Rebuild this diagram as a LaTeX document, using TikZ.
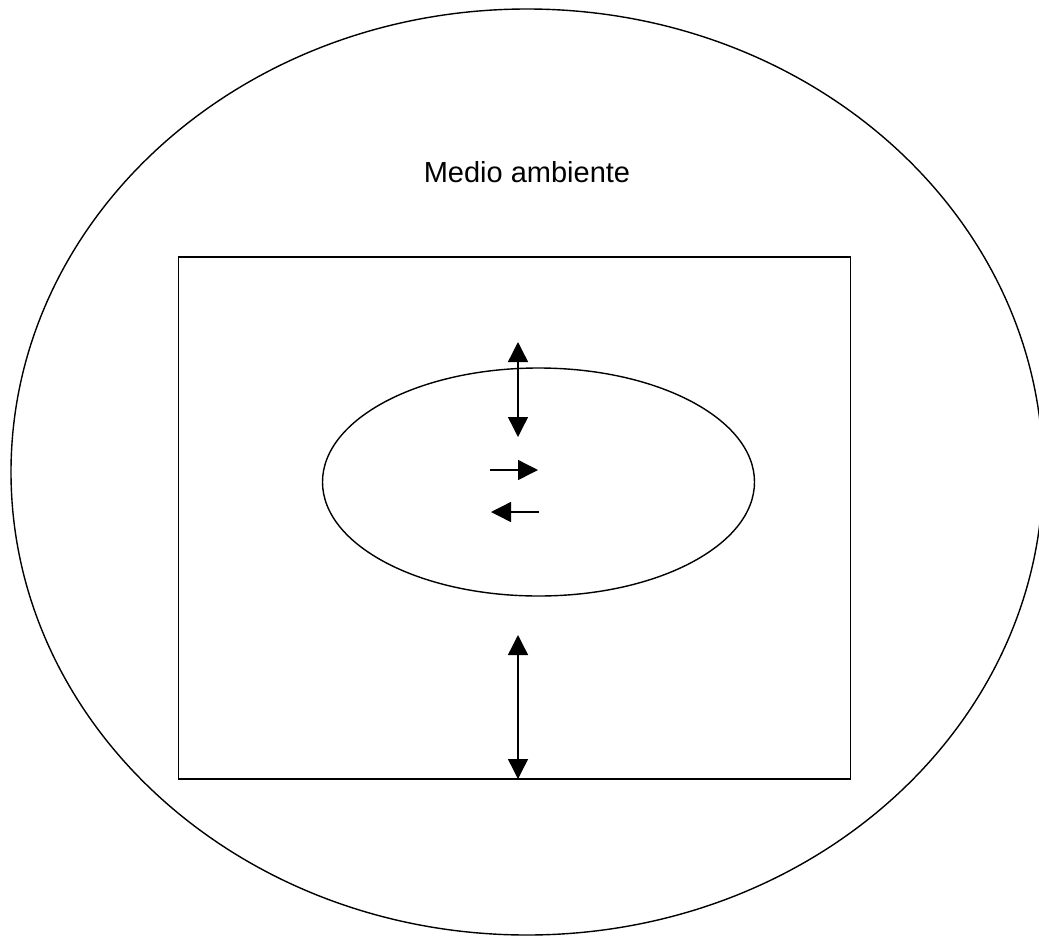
\documentclass[tikz,border=0pt]{standalone}
\usepackage{fontspec}
\setmainfont{Liberation Sans}
\usetikzlibrary{arrows.meta,shapes.geometric}
\begin{document}
\begin{tikzpicture}[x=1pt,y=-1pt,
  outline/.style={draw=black,line width=1.4pt},
  flow/.style={line width=1.4pt,-{Triangle[length=20pt,width=20pt]}},
  flowboth/.style={line width=1.4pt,{Triangle[length=20pt,width=20pt]}-{Triangle[length=20pt,width=20pt]}}]
  \useasboundingbox (0,0) rectangle (1039,935);
  % environment
  \node[outline,ellipse,minimum width=1032pt,minimum height=926pt,inner sep=0pt] (env) at (527,472) {};
  \node[font=\fontsize{29pt}{34pt}\selectfont] (label) at (527,172) {Medio ambiente};
  % system boundary
  \node[outline,rectangle,minimum width=672pt,minimum height=522pt,inner sep=0pt] (sys) at (514.5,518) {};
  % core
  \node[outline,ellipse,minimum width=432pt,minimum height=228pt,inner sep=0pt] (core) at (538.5,482) {};
  % exchanges
  \coordinate (a1) at (518,342);
  \coordinate (a2) at (518,437);
  \coordinate (b1) at (490,470);
  \coordinate (b2) at (538,470);
  \coordinate (c1) at (539,512);
  \coordinate (c2) at (491,512);
  \coordinate (d1) at (518,635);
  \coordinate (d2) at (518,779);
  \draw[flowboth] (a1) -- (a2);
  \draw[flow] (b1) -- (b2);
  \draw[flow] (c1) -- (c2);
  \draw[flowboth] (d1) -- (d2);
\end{tikzpicture}
\end{document}
